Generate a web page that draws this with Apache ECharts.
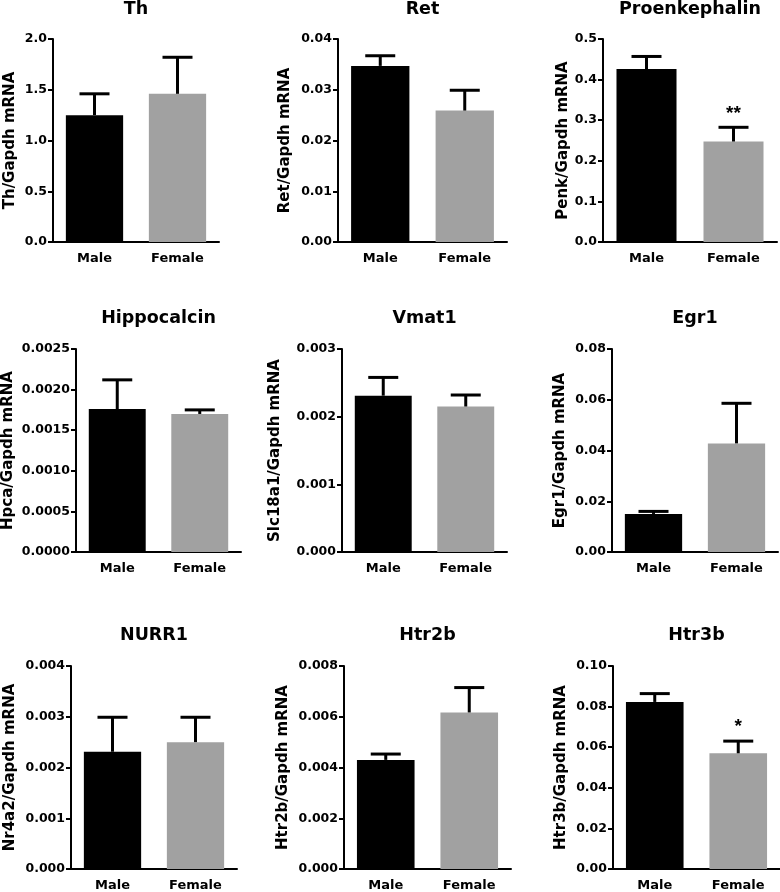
<!DOCTYPE html>
<html><head><meta charset="utf-8">
<script src="https://cdn.jsdelivr.net/npm/echarts@6/dist/echarts.min.js"></script>
<style>html,body{margin:0;padding:0;background:#fff}#c{width:780px;height:892px}</style>
</head><body><div id="c"></div>
<script>
// ---- data ----
const categories = ['Male', 'Female'];
const titles = ['Th', 'Ret', 'Proenkephalin', 'Hippocalcin', 'Vmat1', 'Egr1', 'NURR1', 'Htr2b', 'Htr3b'];
const yNames = ['Th/Gapdh mRNA', 'Ret/Gapdh mRNA', 'Penk/Gapdh mRNA', 'Hpca/Gapdh mRNA', 'Slc18a1/Gapdh mRNA',
                'Egr1/Gapdh mRNA', 'Nr4a2/Gapdh mRNA', 'Htr2b/Gapdh mRNA', 'Htr3b/Gapdh mRNA'];

const thMean = [1.25, 1.46];       const thErr = [0.21, 0.36];
const retMean = [0.0347, 0.0259];  const retErr = [0.0020, 0.0040];
const penkMean = [0.426, 0.2475];  const penkErr = [0.031, 0.035];
const hpcaMean = [0.00176, 0.00170]; const hpcaErr = [0.00036, 0.00005];
const vmat1Mean = [0.00231, 0.00215]; const vmat1Err = [0.00027, 0.00017];
const egr1Mean = [0.0150, 0.0428]; const egr1Err = [0.0010, 0.0158];
const nurr1Mean = [0.00231, 0.00250]; const nurr1Err = [0.00068, 0.00049];
const htr2bMean = [0.00430, 0.00617]; const htr2bErr = [0.00023, 0.00098];
const htr3bMean = [0.0823, 0.0570]; const htr3bErr = [0.0041, 0.0060];

const noSig = ['', ''];
const penkSig = ['', '**'];
const htr3bSig = ['', '*'];

const yMax = [2.0, 0.04, 0.5, 0.0025, 0.003, 0.08, 0.004, 0.008, 0.10];
const yStep = [0.5, 0.01, 0.1, 0.0005, 0.001, 0.02, 0.001, 0.002, 0.02];
const yDecimals = [1, 2, 1, 4, 3, 2, 3, 3, 2];

const means = [thMean, retMean, penkMean, hpcaMean, vmat1Mean, egr1Mean, nurr1Mean, htr2bMean, htr3bMean];
const errs = [thErr, retErr, penkErr, hpcaErr, vmat1Err, egr1Err, nurr1Err, htr2bErr, htr3bErr];
const sigs = [noSig, noSig, penkSig, noSig, noSig, noSig, noSig, noSig, htr3bSig];

// ---- layout / style ----
const gridLeft = [53, 338, 603, 76, 342, 612, 71, 344, 613];
const gridWidth = [166, 169, 174, 165, 165, 166, 166, 167, 167];
const rowTop = [39, 349, 666];
const gridHeight = 203;
const titleTop = [0, 309, 626];
const nameGaps = [35, 45, 32, 60, 59, 44, 53, 53, 44];
const barColors = ['#000000', '#a1a1a1'];
const FONT = '"DejaVu Sans", sans-serif';

const grids = [], xAxes = [], yAxes = [], series = [], titleList = [];
for (let i = 0; i < 9; i++) {
  const row = Math.floor(i / 3);
  grids.push({ left: gridLeft[i], width: gridWidth[i], top: rowTop[row], height: gridHeight, containLabel: false });
  titleList.push({
    text: titles[i], left: gridLeft[i] + gridWidth[i] / 2, top: titleTop[row], textAlign: 'center', padding: 0,
    textStyle: { fontFamily: FONT, fontWeight: 'bold', fontSize: 17.5, color: '#000' }
  });
  xAxes.push({
    type: 'category', gridIndex: i, data: categories,
    axisLine: { lineStyle: { color: '#000', width: 2 } },
    axisTick: { alignWithLabel: true, length: 6, lineStyle: { color: '#000', width: 2 } },
    axisLabel: { color: '#000', fontFamily: FONT, fontWeight: 'bold', fontSize: 13, margin: 10 },
    splitLine: { show: false }
  });
  const dec = yDecimals[i];
  yAxes.push({
    type: 'value', gridIndex: i, min: 0, max: yMax[i], interval: yStep[i],
    name: yNames[i], nameLocation: 'middle', nameGap: nameGaps[i],
    nameTextStyle: { color: '#000', fontFamily: FONT, fontWeight: 'bold', fontSize: 15 },
    axisLine: { show: true, lineStyle: { color: '#000', width: 2 } },
    axisTick: { show: true, length: 5, lineStyle: { color: '#000', width: 2 } },
    axisLabel: { color: '#000', fontFamily: FONT, fontWeight: 'bold', fontSize: 12.5, margin: 6,
                 formatter: v => Number(v).toFixed(dec) },
    splitLine: { show: false }
  });
  series.push({
    type: 'bar', xAxisIndex: i, yAxisIndex: i, barWidth: '69%',
    data: means[i].map((v, k) => ({ value: v, itemStyle: { color: barColors[k] } })),
    z: 2
  });
  const sig = sigs[i];
  series.push({
    type: 'custom', xAxisIndex: i, yAxisIndex: i, z: 3,
    encode: { x: 0, y: 1 },
    data: means[i].map((v, k) => [k, v, errs[i][k]]),
    renderItem: (params, api) => {
      const x = api.value(0), m = api.value(1), e = api.value(2);
      const p0 = api.coord([x, m]);
      const p1 = api.coord([x, m + e]);
      const hw = 15;
      const children = [
        { type: 'line', shape: { x1: p0[0], y1: p0[1], x2: p1[0], y2: p1[1] }, style: { stroke: '#000', lineWidth: 3 } },
        { type: 'line', shape: { x1: p1[0] - hw, y1: p1[1], x2: p1[0] + hw, y2: p1[1] }, style: { stroke: '#000', lineWidth: 3 } }
      ];
      const s = sig[params.dataIndex];
      if (s) {
        children.push({ type: 'text', x: p1[0], y: p1[1] - 14,
          style: { text: s, fill: '#000', font: 'bold 19px "Liberation Sans", sans-serif', align: 'center', verticalAlign: 'middle' } });
      }
      return { type: 'group', children };
    }
  });
}

const chart = echarts.init(document.getElementById('c'), null, { renderer: 'canvas' });
chart.setOption({
  animation: false,
  backgroundColor: '#fff',
  title: titleList,
  grid: grids,
  xAxis: xAxes,
  yAxis: yAxes,
  series: series
});
</script>
</body></html>
